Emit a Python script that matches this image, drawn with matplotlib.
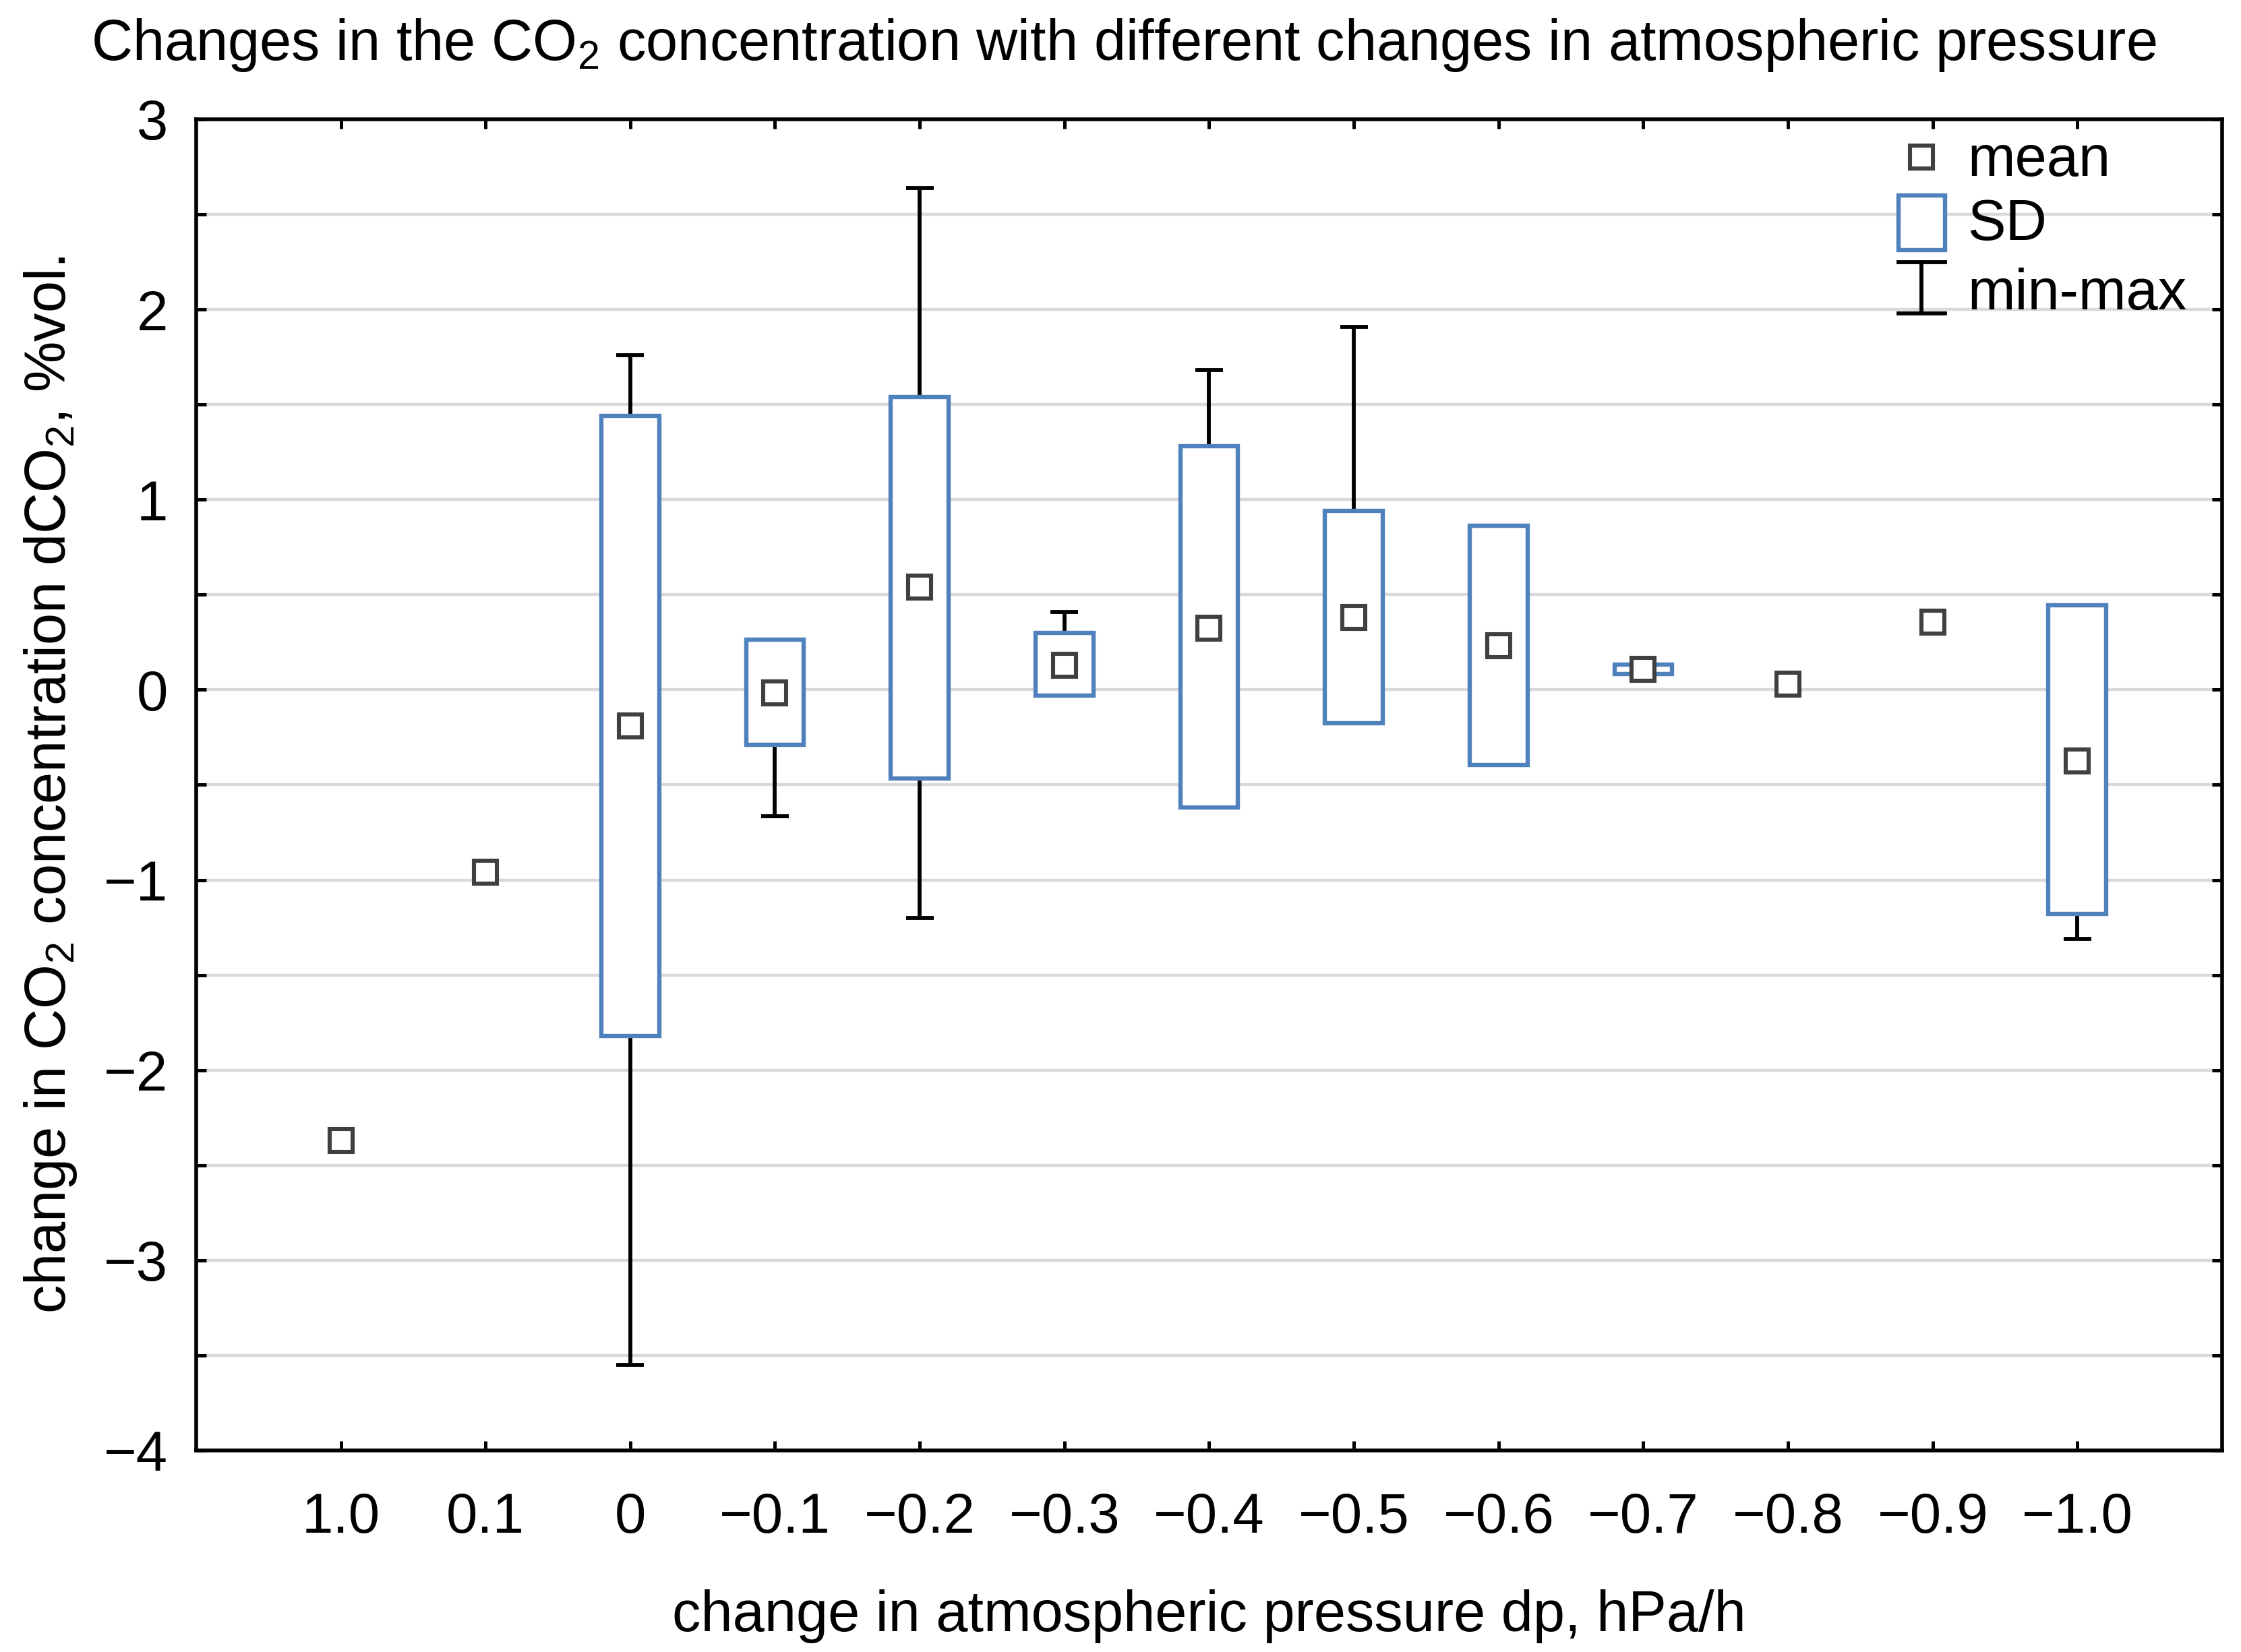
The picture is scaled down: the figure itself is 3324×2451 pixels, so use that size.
import numpy as np
import matplotlib
matplotlib.use("Agg")
import matplotlib.pyplot as plt
from matplotlib.patches import Rectangle

plt.rcParams['font.family'] = ['Liberation Sans', 'DejaVu Sans']
plt.rcParams['mathtext.fontset'] = 'custom'
plt.rcParams['mathtext.rm'] = 'Liberation Sans'
plt.rcParams['mathtext.it'] = 'Liberation Sans'
plt.rcParams['mathtext.bf'] = 'Liberation Sans:bold'

nan = np.nan
categories = ['1.0', '0.1', '0', '\u22120.1', '\u22120.2', '\u22120.3', '\u22120.4',
              '\u22120.5', '\u22120.6', '\u22120.7', '\u22120.8', '\u22120.9', '\u22121.0']
mean_vals = [-2.37, -0.96, -0.19, -0.015, 0.54, 0.13, 0.325, 0.38, 0.233, 0.109, 0.03, 0.357, -0.375]
sd_low = [nan, nan, -1.82, -0.29, -0.465, -0.03, -0.62, -0.176, -0.395, 0.084, nan, nan, -1.18]
sd_high = [nan, nan, 1.44, 0.264, 1.54, 0.30, 1.28, 0.94, 0.864, 0.134, nan, nan, 0.444]
min_vals = [nan, nan, -3.55, -0.665, -1.20, nan, nan, nan, nan, nan, nan, nan, -1.31]
max_vals = [nan, nan, 1.76, nan, 2.64, 0.41, 1.68, 1.91, nan, nan, nan, nan, nan]
ytick_vals = [3, 2, 1, 0, -1, -2, -3, -4]

BLUE = '#4F81BD'
MARK = '#404040'
GRID = '#d9d9d9'
FS = 30.5
TFS = 30

fig = plt.figure(figsize=(16.62, 12.255), dpi=200)
ax = fig.add_axes([0.0875, 0.122, 0.9916 - 0.0875, 0.9278 - 0.122])

x = np.arange(len(categories))
mean = np.array(mean_vals)
lo = np.array(sd_low)
hi = np.array(sd_high)
mn = np.array(min_vals)
mx = np.array(max_vals)

# SD boxes
m = ~np.isnan(lo)
ax.bar(x[m], hi[m] - lo[m], bottom=lo[m], width=0.4, facecolor='white',
       edgecolor=BLUE, linewidth=2.3, zorder=3)

# whiskers
cw = 0.095
m = ~np.isnan(mx)
ax.vlines(x[m], hi[m], mx[m], color='black', lw=2.1, zorder=2.5)
ax.hlines(mx[m], x[m] - cw, x[m] + cw, color='black', lw=2.1, zorder=2.5)
m = ~np.isnan(mn)
ax.vlines(x[m], mn[m], lo[m], color='black', lw=2.1, zorder=2.5)
ax.hlines(mn[m], x[m] - cw, x[m] + cw, color='black', lw=2.1, zorder=2.5)

# means
ax.plot(x, mean, 's', ms=12, mfc='white', mec=MARK, mew=2.2, zorder=4, ls='none')

ax.set_xlim(-1, 13)
ax.set_ylim(-4, 3)
ax.set_xticks(x)
ax.set_xticklabels(categories)
ax.set_yticks(ytick_vals)
ax.set_yticklabels([str(v).replace('-', '\u2212') for v in ytick_vals])
ax.set_yticks(np.arange(-3.5, 3.0, 1.0), minor=True)
ax.tick_params(axis='x', direction='in', top=True, bottom=True, length=5, width=1.8,
               pad=22, labelsize=TFS)
ax.tick_params(axis='y', which='both', direction='in', left=True, right=True,
               length=5.4, width=1.8, pad=15, labelsize=TFS)
ax.yaxis.grid(True, which='both', color=GRID, lw=1.6)
ax.set_axisbelow(True)
for s in ax.spines.values():
    s.set_linewidth(2.0)

# legend drawn manually
lx = 0.8516
ax.plot([lx], [0.9716], 's', ms=12, mfc='white', mec=MARK, mew=2.2,
        transform=ax.transAxes, clip_on=False, zorder=5)
ax.add_patch(Rectangle((lx - 0.01148, 0.9225 - 0.0205), 0.02296, 0.041,
                       transform=ax.transAxes, facecolor='white', edgecolor=BLUE,
                       lw=2.3, zorder=5))
ax.plot([lx, lx], [0.8542, 0.8927], color='black', lw=2.1, transform=ax.transAxes, zorder=5)
ax.plot([lx - 0.01148, lx + 0.01148], [0.8927, 0.8927], color='black', lw=2.1,
        transform=ax.transAxes, zorder=5)
ax.plot([lx - 0.01148, lx + 0.01148], [0.8542, 0.8542], color='black', lw=2.1,
        transform=ax.transAxes, zorder=5)
tx = 0.8742
ax.text(tx, 0.9575, 'mean', transform=ax.transAxes, fontsize=FS, va='baseline', ha='left', zorder=6)
ax.text(tx, 0.9095, 'SD', transform=ax.transAxes, fontsize=FS, va='baseline', ha='left', zorder=6)
ax.text(tx, 0.8570, 'min-max', transform=ax.transAxes, fontsize=FS, va='baseline', ha='left', zorder=6)

fig.text(0.5015, 0.9727, 'Changes in the CO$_2$ concentration with different changes in atmospheric pressure',
         fontsize=FS, ha='center', va='center')
fig.text(0.5396, 0.0215, 'change in atmospheric pressure dp, hPa/h', fontsize=FS,
         ha='center', va='center')
fig.text(0.0226, 0.525, 'change in CO$_2$ concentration dCO$_2$, %vol.', fontsize=FS,
         ha='center', va='center', rotation=90)

fig.savefig('out.png', dpi=200)
